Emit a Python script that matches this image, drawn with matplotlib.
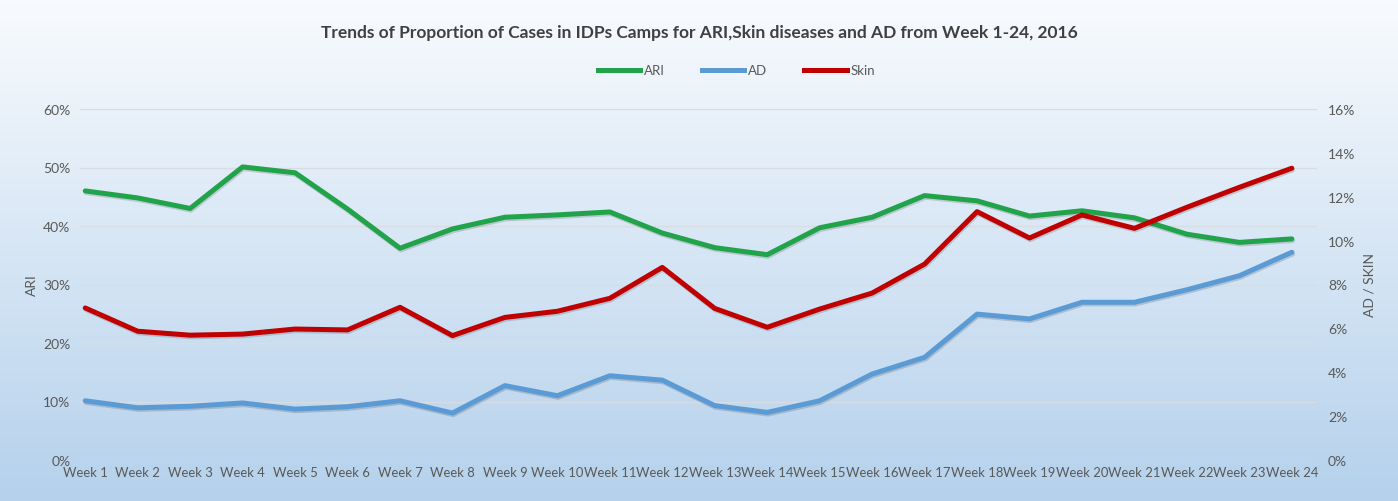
import numpy as np
import matplotlib
matplotlib.use('Agg')
import matplotlib.pyplot as plt
from matplotlib.ticker import PercentFormatter
from matplotlib.lines import Line2D
import matplotlib.patheffects as pe

plt.rcParams['font.family'] = ['Lato', 'DejaVu Sans']

# 数据
weeks = ['Week %d' % i for i in range(1, 25)]
ari = [46.0, 44.8, 43.0, 50.1, 49.1, 42.9, 36.2, 39.5, 41.5, 41.9, 42.4, 38.8,
       36.3, 35.1, 39.7, 41.5, 45.2, 44.3, 41.7, 42.6, 41.4, 38.6, 37.2, 37.8]
ad = [2.70, 2.38, 2.45, 2.60, 2.32, 2.43, 2.70, 2.14, 3.39, 2.93, 3.84, 3.64,
      2.48, 2.17, 2.70, 3.92, 4.68, 6.65, 6.43, 7.19, 7.19, 7.76, 8.40, 9.47]
skin = [6.93, 5.87, 5.69, 5.74, 5.97, 5.93, 6.96, 5.67, 6.50, 6.78, 7.37, 8.78,
        6.91, 6.05, 6.88, 7.61, 8.93, 11.32, 10.12, 11.17, 10.56, 11.52, 12.43, 13.30]

colors = {'ARI': '#21a34a', 'AD': '#5b9bd5', 'Skin': '#c00000'}

fig = plt.figure(figsize=(13.98, 5.02), dpi=100)

# 渐变背景
bg = fig.add_axes([0, 0, 1, 1], zorder=-10)
grad = np.linspace(0, 1, 256).reshape(-1, 1)
top = np.array([0.975, 0.984, 0.995])
bot = np.array([0.71, 0.82, 0.925])
img = top + (bot - top) * grad[:, :, None]
bg.imshow(img, aspect='auto', extent=[0, 1, 0, 1])
bg.axis('off')

ax = fig.add_axes([80 / 1398, 41 / 502, 1237 / 1398, 351 / 502])
ax.patch.set_alpha(0)
ax2 = ax.twinx()
ax2.patch.set_alpha(0)

x = np.arange(len(weeks))
shadow = [pe.SimpleLineShadow(offset=(0.6, -1.2), alpha=0.15), pe.Normal()]
ax.plot(x, ari, color=colors['ARI'], lw=3.6, solid_capstyle='round', path_effects=shadow)
ax2.plot(x, ad, color=colors['AD'], lw=3.6, solid_capstyle='round', path_effects=shadow)
ax2.plot(x, skin, color=colors['Skin'], lw=3.6, solid_capstyle='round', path_effects=shadow)

ax.set_xlim(-0.1, 23.48)
ax.set_ylim(0, 60)
ax2.set_ylim(0, 16)
ax.set_yticks(range(0, 61, 10))
ax2.set_yticks(range(0, 17, 2))
ax.yaxis.set_major_formatter(PercentFormatter(decimals=0))
ax2.yaxis.set_major_formatter(PercentFormatter(decimals=0))
ax.set_xticks(x)
ax.set_xticklabels(weeks)

ax.grid(axis='y', color='#d8dde3', lw=1)
ax.set_axisbelow(True)
for a in (ax, ax2):
    for s in a.spines.values():
        s.set_visible(False)
    a.tick_params(length=0, colors='#595959', labelsize=10)
ax.tick_params(axis='x', labelsize=9.4, pad=4)
ax.tick_params(axis='y', pad=7)
ax2.tick_params(axis='y', pad=8)

ax.set_ylabel('ARI', color='#595959', fontsize=10, labelpad=4)
ax2.set_ylabel('AD / SKIN', color='#595959', fontsize=10, labelpad=6)

fig.text(0.5, 0.935, 'Trends of Proportion of Cases in IDPs Camps for ARI,Skin diseases and AD from Week 1-24, 2016',
         ha='center', va='center', fontsize=12.5, fontweight='bold', color='#404040')
handles = [Line2D([], [], color=colors[k], lw=3.6) for k in ['ARI', 'AD', 'Skin']]
fig.legend(handles=handles, labels=['ARI', 'AD', 'Skin'], loc='center',
           bbox_to_anchor=(0.527, 0.858), ncol=3, frameon=False, fontsize=9.5,
           handlelength=3.2, columnspacing=2.8, handletextpad=0.3, labelcolor='#595959')

fig.savefig('out.png', dpi=100)
